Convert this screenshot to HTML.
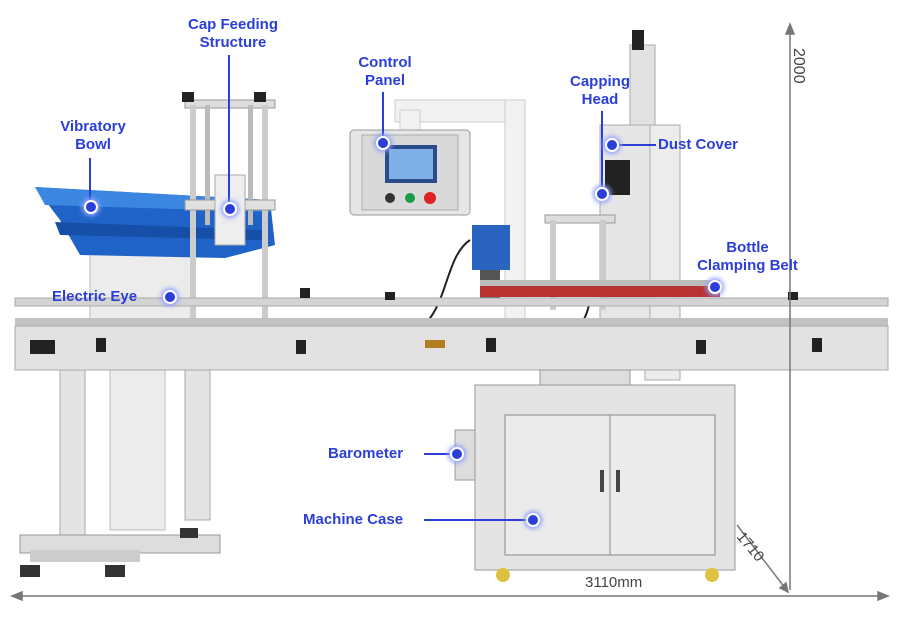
<!DOCTYPE html>
<html><head><meta charset="utf-8"><style>
body{margin:0;background:#fff;}
#c{position:relative;width:900px;height:632px;overflow:hidden;background:#fff;font-family:"Liberation Sans",sans-serif;}
.a{position:absolute;}
.l{position:absolute;color:#2b3fd8;font-weight:bold;font-size:15px;line-height:18px;text-align:center;white-space:nowrap;}
.d{position:absolute;width:10px;height:10px;border-radius:50%;background:#2b3fd8;border:2px solid #fff;box-shadow:0 0 5px 2px #8fa0ff;}
.ln{position:absolute;background:#2b3fd8;}
</style></head><body><div id="c">
<svg class="a" style="left:0;top:0" width="900" height="632">
<rect x="60" y="370" width="25" height="180" fill="#e4e4e4" stroke="#aaa"/>
<rect x="185" y="370" width="25" height="150" fill="#e4e4e4" stroke="#aaa"/>
<rect x="110" y="370" width="55" height="160" fill="#ececec" stroke="#bbb"/>
<rect x="20" y="535" width="200" height="18" fill="#ddd" stroke="#999"/>
<rect x="30" y="550" width="110" height="12" fill="#ccc"/>
<rect x="20" y="565" width="20" height="12" fill="#333"/>
<rect x="105" y="565" width="20" height="12" fill="#333"/>
<rect x="180" y="528" width="18" height="10" fill="#333"/>
<rect x="90" y="250" width="105" height="70" fill="#ececec" stroke="#bbb"/>
<path d="M35 187 L270 200 L275 245 L225 258 L80 255 L60 220 Z" fill="#1f63c8"/>
<path d="M35 187 L270 200 L270 212 L45 205 Z" fill="#3b86e0"/>
<path d="M55 222 L265 230 L262 240 L60 235 Z" fill="#164fa8"/>
<rect x="185" y="100" width="90" height="8" fill="#ddd" stroke="#999"/>
<rect x="190" y="105" width="6" height="220" fill="#ccc"/>
<rect x="262" y="105" width="6" height="220" fill="#ccc"/>
<rect x="205" y="105" width="5" height="120" fill="#bbb"/>
<rect x="248" y="105" width="5" height="120" fill="#bbb"/>
<rect x="185" y="200" width="90" height="10" fill="#e0e0e0" stroke="#999"/>
<rect x="215" y="175" width="30" height="70" fill="#eee" stroke="#aaa"/>
<rect x="182" y="92" width="12" height="10" fill="#222"/>
<rect x="254" y="92" width="12" height="10" fill="#222"/>
<rect x="395" y="100" width="130" height="22" fill="#f2f2f2" stroke="#ccc"/>
<rect x="505" y="100" width="20" height="220" fill="#f2f2f2" stroke="#ccc"/>
<rect x="400" y="110" width="20" height="30" fill="#f2f2f2" stroke="#ccc"/>
<rect x="350" y="130" width="120" height="85" rx="4" fill="#e6e6e6" stroke="#999"/>
<rect x="362" y="135" width="96" height="75" fill="#d9d9d9" stroke="#aaa"/>
<rect x="385" y="145" width="52" height="38" fill="#2a4c8a"/>
<rect x="389" y="149" width="44" height="30" fill="#7fb0e6"/>
<circle cx="390" cy="198" r="5" fill="#333"/>
<circle cx="410" cy="198" r="5" fill="#1a9a4a"/>
<circle cx="430" cy="198" r="6" fill="#d22"/>
<rect x="472" y="225" width="38" height="45" fill="#2a64c0"/>
<rect x="480" y="270" width="20" height="30" fill="#555"/>
<rect x="630" y="45" width="25" height="100" fill="#e2e2e2" stroke="#aaa"/>
<rect x="632" y="30" width="12" height="20" fill="#222"/>
<rect x="645" y="125" width="35" height="255" fill="#ececec" stroke="#aaa"/>
<rect x="600" y="125" width="50" height="200" fill="#e6e6e6" stroke="#aaa"/>
<rect x="605" y="160" width="25" height="35" fill="#222"/>
<rect x="545" y="215" width="70" height="8" fill="#ddd" stroke="#999"/>
<rect x="550" y="220" width="6" height="90" fill="#ccc"/>
<rect x="600" y="220" width="6" height="90" fill="#ccc"/>
<rect x="480" y="285" width="240" height="12" fill="#b83232"/>
<rect x="480" y="280" width="240" height="6" fill="#bbb"/>
<path d="M470 240 C440 260 450 330 400 335 C340 340 250 330 180 330" stroke="#222" stroke-width="2" fill="none"/>
<path d="M590 300 C580 360 520 350 430 345" stroke="#222" stroke-width="2" fill="none"/>
<rect x="15" y="298" width="873" height="8" fill="#d4d4d4" stroke="#aaa"/>
<rect x="15" y="318" width="873" height="8" fill="#c2c2c2"/>
<rect x="15" y="326" width="873" height="44" fill="#e2e2e2" stroke="#aaa"/>
<rect x="30" y="340" width="25" height="14" fill="#222"/>
<g fill="#222">
<rect x="96" y="338" width="10" height="14"/><rect x="296" y="340" width="10" height="14"/>
<rect x="486" y="338" width="10" height="14"/><rect x="696" y="340" width="10" height="14"/>
<rect x="812" y="338" width="10" height="14"/><rect x="300" y="288" width="10" height="10"/>
<rect x="385" y="292" width="10" height="8"/><rect x="788" y="292" width="10" height="8"/>
<rect x="425" y="340" width="20" height="8" fill="#b08020"/>
</g>
<rect x="540" y="370" width="90" height="35" fill="#ddd" stroke="#999"/>
<circle cx="597" cy="397" r="9" fill="#222"/>
<rect x="475" y="385" width="260" height="185" fill="#e4e4e4" stroke="#999"/>
<rect x="505" y="415" width="105" height="140" fill="#ebebeb" stroke="#888"/>
<rect x="610" y="415" width="105" height="140" fill="#ebebeb" stroke="#888"/>
<rect x="600" y="470" width="4" height="22" fill="#444"/>
<rect x="616" y="470" width="4" height="22" fill="#444"/>
<rect x="455" y="430" width="20" height="50" fill="#ddd" stroke="#999"/>
<circle cx="503" cy="575" r="7" fill="#e0c040"/>
<circle cx="712" cy="575" r="7" fill="#e0c040"/>
<g stroke="#777" stroke-width="1.5" fill="#777">
<line x1="790" y1="32" x2="790" y2="590"/>
<path d="M786 34 L790 24 L794 34 Z"/>
<line x1="20" y1="596" x2="880" y2="596"/>
<path d="M22 592 L12 596 L22 600 Z"/>
<path d="M878 592 L888 596 L878 600 Z"/>
<line x1="737" y1="525" x2="785" y2="588"/>
<path d="M780 588 L788 592 L786 583 Z"/>
</g>
<text x="585" y="587" font-family="Liberation Sans" font-size="15" fill="#444">3110mm</text>
<text transform="translate(794,48) rotate(90)" font-family="Liberation Sans" font-size="16" fill="#444">2000</text>
<text transform="translate(736,537) rotate(50)" font-family="Liberation Sans" font-size="15" fill="#444">1710</text>
</svg>
<div class="l" style="left:48px;top:118px;width:90px">Vibratory<br>Bowl</div>
<div class="ln" style="left:89px;top:158px;width:2px;height:46px"></div>
<div class="d" style="left:84px;top:200px"></div>
<div class="l" style="left:168px;top:16px;width:130px">Cap Feeding<br>Structure</div>
<div class="ln" style="left:228px;top:55px;width:2px;height:150px"></div>
<div class="d" style="left:223px;top:202px"></div>
<div class="l" style="left:340px;top:54px;width:90px">Control<br>Panel</div>
<div class="ln" style="left:382px;top:92px;width:2px;height:48px"></div>
<div class="d" style="left:376px;top:136px"></div>
<div class="l" style="left:555px;top:73px;width:90px">Capping<br>Head</div>
<div class="ln" style="left:601px;top:111px;width:2px;height:80px"></div>
<div class="d" style="left:595px;top:187px"></div>
<div class="l" style="left:658px;top:136px">Dust Cover</div>
<div class="ln" style="left:618px;top:144px;width:38px;height:2px"></div>
<div class="d" style="left:605px;top:138px"></div>
<div class="l" style="left:685px;top:239px;width:125px">Bottle<br>Clamping Belt</div>
<div class="d" style="left:708px;top:280px"></div>
<div class="l" style="left:52px;top:288px">Electric Eye</div>
<div class="d" style="left:163px;top:290px"></div>
<div class="l" style="left:328px;top:445px">Barometer</div>
<div class="ln" style="left:424px;top:453px;width:28px;height:2px"></div>
<div class="d" style="left:450px;top:447px"></div>
<div class="l" style="left:303px;top:511px">Machine Case</div>
<div class="ln" style="left:424px;top:519px;width:102px;height:2px"></div>
<div class="d" style="left:526px;top:513px"></div>
</div></body></html>
